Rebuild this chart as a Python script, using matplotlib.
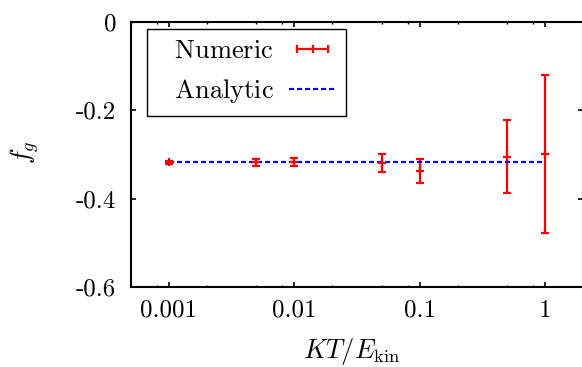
import matplotlib
matplotlib.use('Agg')
import matplotlib.pyplot as plt
from matplotlib.lines import Line2D
from matplotlib.legend_handler import HandlerLine2D
from matplotlib.ticker import LogLocator, FixedLocator, FixedFormatter, NullFormatter

# data
kt_ratio = [0.001, 0.005, 0.01, 0.05, 0.1, 0.5, 1]
numeric = [-0.318, -0.318, -0.318, -0.319, -0.337, -0.305, -0.299]
numeric_err = [0.003, 0.008, 0.009, 0.020, 0.027, 0.083, 0.179]
analytic = [-0.318, -0.318, -0.318, -0.318, -0.318, -0.318, -0.318]

xticks = [0.001, 0.01, 0.1, 1]
xticklabels = ['0.001', '0.01', '0.1', '1']
yticks = [0, -0.2, -0.4, -0.6]
yticklabels = ['0', '-0.2', '-0.4', '-0.6']

plt.rcParams['font.family'] = 'cmr10'
plt.rcParams['mathtext.fontset'] = 'cm'
plt.rcParams['font.size'] = 18

fig = plt.figure(figsize=(5.82, 3.67), dpi=100)
ax = fig.add_axes([131/582, 1-287/367, 452/582, 265/367])

ax.errorbar(kt_ratio, numeric, yerr=numeric_err, fmt='+', color='red',
            ms=6, mew=1.6, elinewidth=1.6, capsize=3, capthick=1.6)
ax.plot(kt_ratio, analytic, color='blue', lw=1.6, dashes=(2.3, 1.3))

ax.set_xscale('log')
ax.set_xlim(0.0005, 2)
ax.set_ylim(-0.6, 0)

ax.xaxis.set_major_locator(FixedLocator(xticks))
ax.xaxis.set_major_formatter(FixedFormatter(xticklabels))
ax.xaxis.set_minor_locator(LogLocator(base=10, subs=(2, 5, 8)))
ax.xaxis.set_minor_formatter(NullFormatter())
ax.yaxis.set_major_locator(FixedLocator(yticks))
ax.yaxis.set_major_formatter(FixedFormatter(yticklabels))

ax.tick_params(which='both', direction='in', top=True, right=True)
ax.tick_params(which='major', length=3.6, width=1.2)
ax.tick_params(which='minor', length=1.5, width=1.0)
ax.tick_params(axis='y', pad=10.5)
ax.tick_params(axis='x', pad=9)
for s in ax.spines.values():
    s.set_linewidth(1.5)

ax.set_ylabel(r'$f_g$', fontsize=19)
ax.yaxis.set_label_coords(-0.199, 0.509)
ax.set_xlabel(r'$KT/E_{\rm kin}$', fontsize=19)
ax.xaxis.set_label_coords(0.489, -0.185)

h_num = Line2D([], [], color='red', lw=1.6, marker='|', ms=6, mew=1.6)
h_ana = Line2D([], [], color='blue', lw=1.6, dashes=(2.3, 1.3))
leg = ax.legend([h_num, h_ana],
                [r'$\;\;\,\mathrm{Numeric}$', r'$\;\;\,\mathrm{Analytic}$'],
                handler_map={h_num: HandlerLine2D(numpoints=3)},
                markerfirst=False, loc='upper left', fontsize=19,
                bbox_to_anchor=(16/452, 1-7/265), borderaxespad=0,
                handlelength=1.75, handletextpad=0.6, borderpad=0.4,
                labelspacing=0.52, fancybox=False, framealpha=1,
                edgecolor='black')
leg.get_frame().set_linewidth(1.0)

fig.savefig('out.png', dpi=100)
